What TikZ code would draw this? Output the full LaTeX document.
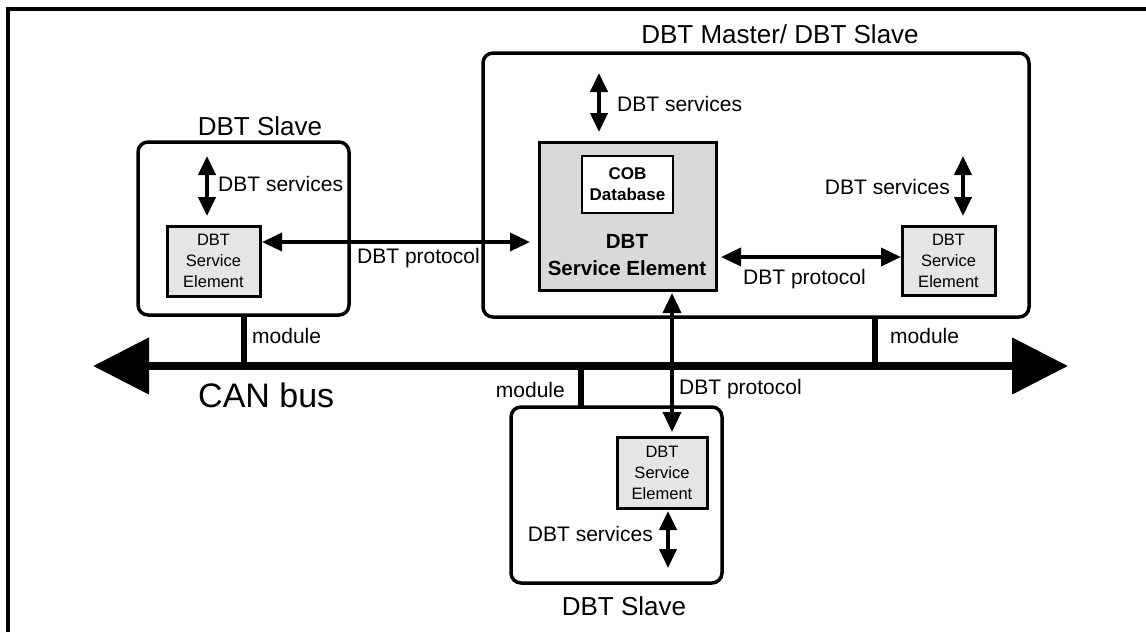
\documentclass[tikz,border=0pt]{standalone}
\usepackage{fontspec}
\setmainfont{Liberation Sans}
\usetikzlibrary{arrows.meta}

\definecolor{segray}{gray}{0.85}
\definecolor{segraylt}{gray}{0.9}

\begin{document}
\begin{tikzpicture}[x=1pt,y=-1pt,
  lbl/.style={inner sep=0pt, font=\fontsize{21}{25}\selectfont},
  ttl/.style={inner sep=0pt, font=\fontsize{26}{30}\selectfont},
  unit/.style={draw, line width=3.5pt, rounded corners=10pt, inner sep=0pt, outer sep=0pt, anchor=north west},
  sebox/.style={draw, line width=3pt, fill=segraylt, inner sep=0pt, outer sep=0pt, anchor=north west,
    align=center, font=\fontsize{16.5}{21}\selectfont},
  mainse/.style={draw, line width=3pt, fill=segray, inner sep=0pt, outer sep=0pt, anchor=north west},
  cobbox/.style={draw, line width=1.5pt, fill=white, inner sep=0pt, outer sep=0pt, anchor=north west,
    align=center, font=\bfseries\fontsize{17}{21}\selectfont},
  svc/.style={line width=4pt, {Triangle[length=19pt,width=17pt]}-{Triangle[length=19pt,width=17pt]}},
  proto/.style={line width=3.5pt, {Triangle[length=20pt,width=18pt]}-{Triangle[length=20pt,width=18pt]}},
  stub/.style={line width=6pt},
  bus/.style={line width=8pt, {Triangle[length=56pt,width=55pt]}-{Triangle[length=56pt,width=55pt]}}
]
\useasboundingbox (0,0) rectangle (1146,632);

% frame
\draw[line width=3.5pt] (8,632) -- (8,9) -- (1146,9);

% CAN bus
\coordinate (busL) at (93,366);
\coordinate (busR) at (1068,366);
\draw[bus] (busL) -- (busR);

% modules
\node[unit, minimum width=211pt, minimum height=173pt] (ls) at (138,142) {};
\node[unit, minimum width=546pt, minimum height=264pt] (ms) at (483,53) {};
\node[unit, minimum width=211pt, minimum height=176pt] (bs) at (511,407) {};

\node[ttl, anchor=base] (lsT) at (260,135) {DBT Slave};
\node[ttl, anchor=base] (msT) at (780,43) {DBT Master/ DBT Slave};
\node[ttl, anchor=base] (bsT) at (624,615) {DBT Slave};

% service elements
\node[sebox, minimum width=93pt, minimum height=70pt] (lse) at (167,226) {DBT\\Service\\Element};
\node[sebox, minimum width=93pt, minimum height=69pt] (rse) at (902,226) {DBT\\Service\\Element};
\node[sebox, minimum width=90pt, minimum height=71pt] (bse) at (617,437) {DBT\\Service\\Element};

\node[mainse, minimum width=177pt, minimum height=148pt] (mse) at (539,142) {};
\node[cobbox, minimum width=91pt, minimum height=57pt] (cob) at (582,156) {COB\\Database};
\node[inner sep=0pt, align=center, font=\bfseries\fontsize{20.5}{27}\selectfont] (mseT) at (627,255) {DBT\\Service Element};

% module connections to the bus
\coordinate (m1) at (ls.south);
\draw[stub] (m1) -- (m1 |- busL);
\coordinate (m2) at ([xshift=392pt]ms.south west);
\draw[stub] (m2) -- (m2 |- busL);
\coordinate (m3) at ([xshift=70pt]bs.north west);
\draw[stub] (m3) -- (m3 |- busL);

% DBT services
\coordinate (lsv) at (207,156);
\draw[svc, shorten >=10pt] (lsv) -- (lsv |- lse.north);
\coordinate (msv) at (599,73);
\draw[svc, shorten >=10pt] (msv) -- (msv |- mse.north);
\coordinate (rsv) at (963,156);
\draw[svc, shorten >=10pt] (rsv) -- (rsv |- rse.north);
\coordinate (bsv) at (668,568);
\draw[svc, shorten >=3pt] (bsv) -- (bsv |- bse.south);

% DBT protocol
\coordinate (lp) at ([yshift=-16pt]lse.north east);
\draw[proto, shorten <=2pt, shorten >=9pt] (lp) -- (lp -| mse.west);
\coordinate (rp) at ([yshift=-115pt]mse.north east);
\draw[proto, shorten <=5pt, shorten >=1pt] (rp) -- (rp -| rse.west);
\coordinate (vp) at ([xshift=133pt]mse.south west);
\draw[proto, shorten <=3pt, shorten >=5pt] (vp) -- (vp |- bse.north);

% labels
\node[lbl, anchor=base west] (lsvL) at (218,191.5) {DBT services};
\node[lbl, anchor=base west] (msvL) at (617,111.5) {DBT services};
\node[lbl, anchor=base east] (rsvL) at (950,194.5) {DBT services};
\node[lbl, anchor=base east] (bsvL) at (653,541.5) {DBT services};
\node[lbl, anchor=base west] (lpL) at (357,263) {DBT protocol};
\node[lbl, anchor=base west] (rpL) at (743,284) {DBT protocol};
\node[lbl, anchor=base west] (vpL) at (679,394.5) {DBT protocol};
\node[lbl, anchor=base west] (m1L) at (252,343) {module};
\node[lbl, anchor=base west] (m2L) at (890,343) {module};
\node[lbl, anchor=base east] (m3L) at (565,397) {module};
\node[inner sep=0pt, anchor=base west, font=\fontsize{34}{40}\selectfont] (can) at (198,407) {CAN bus};
\end{tikzpicture}
\end{document}
